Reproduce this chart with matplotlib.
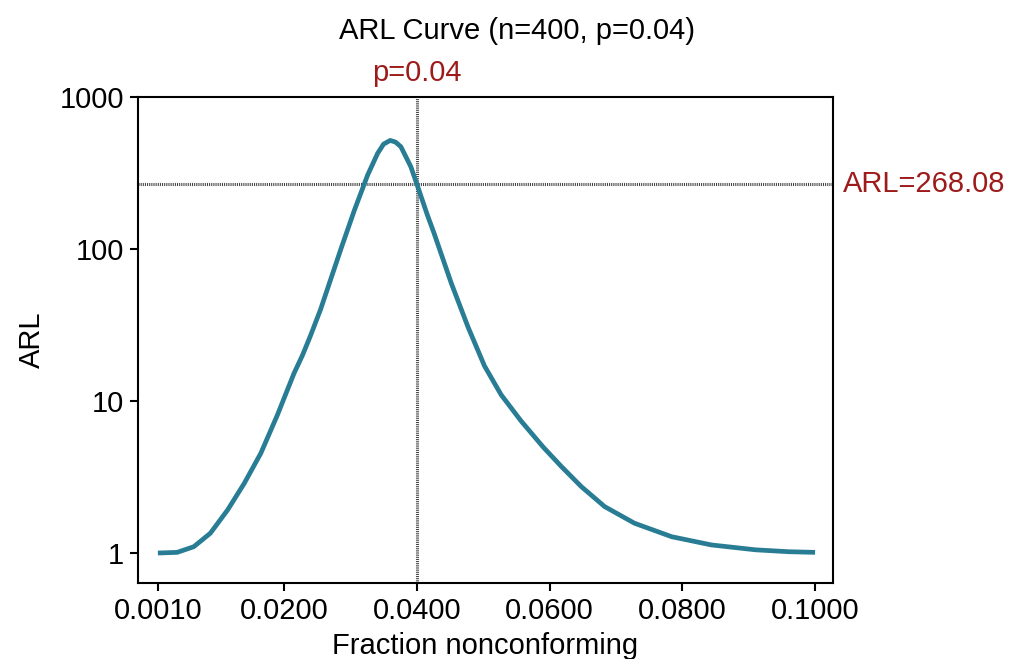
import matplotlib
matplotlib.use("Agg")
import matplotlib.pyplot as plt
from matplotlib.ticker import FixedLocator, FixedFormatter, NullLocator

plt.rcParams['font.family'] = ['Liberation Sans', 'DejaVu Sans']

# Data
p_values = [0.0010, 0.0039, 0.0064, 0.0089, 0.0115, 0.0140, 0.0165, 0.0190,
            0.0215, 0.0228, 0.0240, 0.0255, 0.0286, 0.0306, 0.0326, 0.0341,
            0.0350, 0.0360, 0.0368, 0.0376, 0.0391, 0.0400, 0.0416, 0.0426,
            0.0452, 0.0477, 0.0502, 0.0527, 0.0557, 0.0590, 0.0618, 0.0648,
            0.0683, 0.0728, 0.0784, 0.0844, 0.0910, 0.0960, 0.1000]
arl_values = [1.00, 1.01, 1.10, 1.35, 1.92, 2.87, 4.53, 8.09,
              15.2, 20.1, 27.0, 40.0, 101, 180, 307, 426,
              490, 518, 505, 471, 348, 268.08, 167, 127,
              59.5, 30.8, 17.0, 11.0, 7.4, 5.0, 3.7, 2.73,
              2.02, 1.57, 1.28, 1.13, 1.05, 1.02, 1.01]
x_ticks = [0.001, 0.02, 0.04, 0.06, 0.08, 0.1]
x_tick_labels = ['0.0010', '0.0200', '0.0400', '0.0600', '0.0800', '0.1000']
y_ticks = [1, 10, 100, 1000]
y_tick_labels = ['1', '10', '100', '1000']
p0 = 0.04
arl0 = 268.08

fig = plt.figure(figsize=(10.2, 6.59), dpi=100)
ax = fig.add_axes([138/1020, 1-583/659, (833-138)/1020, (583-97)/659])

ax.plot(p_values, arl_values, color='#287D94', lw=3.4, solid_capstyle='butt',
        solid_joinstyle='round', zorder=3)
ax.axhline(arl0, color='#444444', lw=2.2, linestyle=(0, (0.35, 0.35)), zorder=2)
ax.axvline(p0, color='#444444', lw=2.2, linestyle=(0, (0.35, 0.35)), zorder=2)

ax.set_yscale('log')
ax.set_xlim(-0.002, 0.1027)
ax.set_ylim(0.635, 1000)
ax.xaxis.set_major_locator(FixedLocator(x_ticks))
ax.xaxis.set_major_formatter(FixedFormatter(x_tick_labels))
ax.yaxis.set_major_locator(FixedLocator(y_ticks))
ax.yaxis.set_major_formatter(FixedFormatter(y_tick_labels))
ax.yaxis.set_minor_locator(NullLocator())
ax.tick_params(axis='both', labelsize=21, length=6, width=1.5, direction='out', color='black', pad=4)
for s in ax.spines.values():
    s.set_linewidth(1.5)
    s.set_color('black')

ax.set_xlabel('Fraction nonconforming', fontsize=21, labelpad=5)
ax.set_ylabel('ARL', fontsize=21, labelpad=10)

fig.text(517/1020, 1-31/659, 'ARL Curve (n=400, p=0.04)', ha='center', va='center', fontsize=21)

red = '#9E1B1B'
ax.annotate(f'p={p0}', xy=(p0, 1), xycoords=('data', 'axes fraction'),
            xytext=(0, 7), textcoords='offset points', ha='center', va='bottom',
            fontsize=21, color=red)
ax.annotate(f'ARL={arl0:.2f}', xy=(1, arl0), xycoords=('axes fraction', 'data'),
            xytext=(7, 0), textcoords='offset points', ha='left', va='center',
            fontsize=21, color=red)

fig.savefig('out.png', dpi=100)
